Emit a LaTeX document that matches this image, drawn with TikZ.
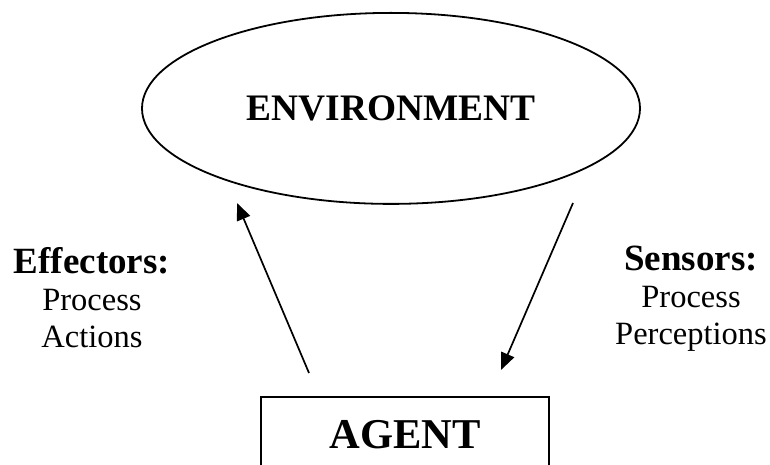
\documentclass[tikz,border=0pt]{standalone}
\usepackage{fontspec}
\setmainfont{Liberation Serif}
\usetikzlibrary{shapes.geometric,arrows.meta}
\tikzset{
  envshape/.style={ellipse, draw, line width=1.8pt, minimum width=498pt, minimum height=191pt, inner sep=2pt,
    font=\fontsize{37.4}{40}\selectfont\bfseries},
  agentbox/.style={rectangle, draw, line width=2.2pt, minimum width=288pt, inner xsep=0pt, inner ysep=22pt,
    text height=29pt, text depth=60pt, font=\fontsize{42.5}{46}\selectfont\bfseries},
  sidelabel/.style={align=center, inner sep=0pt, font=\fontsize{32.5}{37}\selectfont},
  flow/.style={line width=1.7pt, -{Triangle[length=17pt,width=14pt]}}
}
\newcommand{\headline}[1]{{\fontsize{37}{37}\selectfont\bfseries #1}}
\begin{document}
\begin{tikzpicture}[x=1pt,y=-1pt]
\useasboundingbox (0,0) rectangle (770,465);
\clip (0,0) rectangle (770,465);
\node[envshape] (env) at (391,108.4) {ENVIRONMENT};
\node[agentbox, anchor=north] (agent) at (405,396) {AGENT};
\node[sidelabel, anchor=north] (eff) at (92,247.5) {\headline{Effectors:}\\Process\\Actions};
\node[sidelabel, anchor=north] (sen) at (691,246) {\headline{Sensors:}\\Process\\Perceptions};
\coordinate (effstart) at (309,373);
\coordinate (effend) at (237,203);
\coordinate (senstart) at (573,203);
\coordinate (senend) at (501,370);
\draw[flow] (effstart) -- (effend);
\draw[flow] (senstart) -- (senend);
\end{tikzpicture}
\end{document}
